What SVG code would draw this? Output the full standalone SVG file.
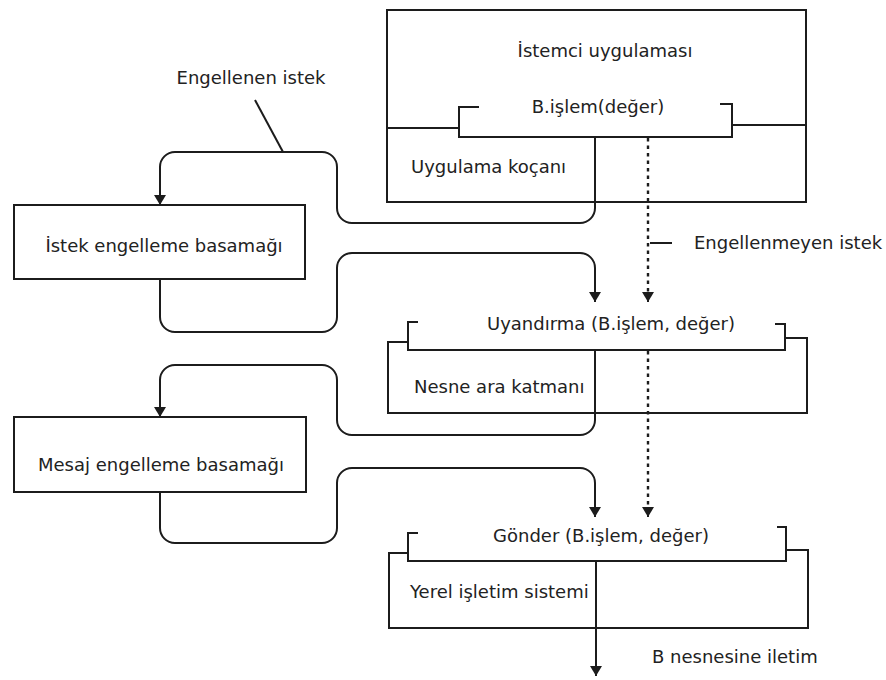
<svg xmlns="http://www.w3.org/2000/svg" width="886" height="680" viewBox="0 0 886 680">
  <style>
    .ln { fill: none; stroke: #1c1c1c; stroke-width: 2; stroke-linejoin: miter; }
    .dot { fill: none; stroke: #1c1c1c; stroke-width: 2.4; stroke-dasharray: 3.5 4; }
    .t { font-family: "DejaVu Sans", Verdana, sans-serif; font-size: 18px; fill: #222222; }
    .c { text-anchor: middle; }
  </style>
  <defs>
    <marker id="arrow" viewBox="0 0 10 12" refX="10" refY="6" markerWidth="10" markerHeight="12" markerUnits="userSpaceOnUse" orient="auto">
      <path d="M0,0 L10,6 L0,12 z" fill="#1c1c1c"/>
    </marker>
  </defs>
  <rect width="886" height="680" fill="#ffffff"/>

  <!-- client application with its stub -->
  <g id="client">
    <rect class="ln" x="387" y="10" width="419" height="192"/>
    <path class="ln" d="M387,128 H459 M732,125 H806"/>
    <path class="ln" d="M479,107 H459 V137 H732 V104 H720"/>
    <text class="t c" x="605" y="57">İstemci uygulaması</text>
    <text class="t c" x="598" y="113">B.işlem(değer)</text>
    <text class="t" x="411" y="173">Uygulama koçanı</text>
  </g>

  <!-- request interceptor -->
  <g id="request-interceptor">
    <rect class="ln" x="14" y="205" width="291" height="74"/>
    <text class="t c" x="164" y="252">İstek engelleme basamağı</text>
  </g>

  <!-- middleware -->
  <g id="middleware">
    <path class="ln" d="M408,342 H388 V413 H807 V338 H785"/>
    <path class="ln" d="M418,322 H408 V350 H785 V324 H775"/>
    <text class="t c" x="611" y="330">Uyandırma (B.işlem, değer)</text>
    <text class="t" x="414" y="393">Nesne ara katmanı</text>
  </g>

  <!-- message interceptor -->
  <g id="message-interceptor">
    <rect class="ln" x="14" y="417" width="292" height="75"/>
    <text class="t c" x="161" y="471">Mesaj engelleme basamağı</text>
  </g>

  <!-- local operating system -->
  <g id="local-os">
    <path class="ln" d="M408,553 H389 V628 H808 V550 H786"/>
    <path class="ln" d="M418,533 H408 V561 H786 V527 H777"/>
    <text class="t c" x="601" y="542">Gönder (B.işlem, değer)</text>
    <text class="t" x="410" y="598">Yerel işletim sistemi</text>
  </g>

  <!-- connectors -->
  <g id="connectors">
    <path class="ln" marker-end="url(#arrow)" d="M595,137 V208 A15,15 0 0 1 580,223 H352 A15,15 0 0 1 337,208 V167 A15,15 0 0 0 322,152 H175 A15,15 0 0 0 160,167 V205"/>
    <path class="ln" marker-end="url(#arrow)" d="M160,279 V317 A15,15 0 0 0 175,332 H322 A15,15 0 0 0 337,317 V268 A15,15 0 0 1 352,253 H580 A15,15 0 0 1 595,268 V302"/>
    <path class="ln" marker-end="url(#arrow)" d="M595,350 V420 A15,15 0 0 1 580,435 H352 A15,15 0 0 1 337,420 V380 A15,15 0 0 0 322,365 H175 A15,15 0 0 0 160,380 V417"/>
    <path class="ln" marker-end="url(#arrow)" d="M160,492 V528 A15,15 0 0 0 175,543 H322 A15,15 0 0 0 337,528 V483 A15,15 0 0 1 352,468 H580 A15,15 0 0 1 595,483 V517"/>
    <path class="ln" marker-end="url(#arrow)" d="M596,561 V676"/>
    <path class="dot" d="M648,138 V292"/>
    <path class="ln" marker-end="url(#arrow)" d="M648,292 V302"/>
    <path class="dot" d="M648,351 V507"/>
    <path class="ln" marker-end="url(#arrow)" d="M648,507 V517"/>
    <!-- label leaders -->
    <path class="ln" d="M255,100 L283,152"/>
    <path class="ln" d="M650,243 H672"/>
    <text class="t c" x="251" y="84">Engellenen istek</text>
    <text class="t" x="694" y="249">Engellenmeyen istek</text>
    <text class="t" x="652" y="663">B nesnesine iletim</text>
  </g>
</svg>
